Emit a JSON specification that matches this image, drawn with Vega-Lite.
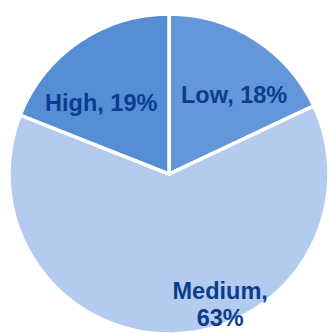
{
  "$schema": "https://vega.github.io/schema/vega-lite/v6.json",
  "autosize": "none",
  "padding": 0,
  "width": 338,
  "height": 348,
  "background": "white",
  "data": {
    "values": [
      {"level": "Low", "share": 18, "label": "Low, 18%"},
      {"level": "Medium", "share": 63, "label": "Medium,\n63%"},
      {"level": "High", "share": 19, "label": "High, 19%"}
    ]
  },
  "encoding": {
    "theta": {"field": "share", "type": "quantitative", "stack": true},
    "order": {"field": "o", "type": "quantitative"}
  },
  "transform": [
    {"calculate": "indexof(['Low','Medium','High'], datum.level)", "as": "o"}
  ],
  "layer": [
    {
      "mark": {"type": "arc", "outerRadius": 160, "stroke": "white", "strokeWidth": 3.5},
      "encoding": {
        "color": {
          "field": "level", "type": "nominal", "legend": null,
          "scale": {"domain": ["Low", "Medium", "High"], "range": ["#6497da", "#b3cbee", "#558ed5"]}
        }
      }
    },
    {
      "mark": {"type": "text", "radius": 101, "dx": 11, "dy": 7, "font": "Liberation Sans", "fontWeight": "bold", "fontSize": 23.5, "fill": "#0b3d8c", "baseline": "middle", "align": "center"},
      "encoding": {"text": {"condition": {"test": "datum.level === 'Low'", "field": "label"}, "value": ""}}
    },
    {
      "mark": {"type": "text", "radius": 101, "dx": -11, "dy": 14, "font": "Liberation Sans", "fontWeight": "bold", "fontSize": 23.5, "fill": "#0b3d8c", "baseline": "middle", "align": "center"},
      "encoding": {"text": {"condition": {"test": "datum.level === 'High'", "field": "label"}, "value": ""}}
    },
    {
      "mark": {"type": "text", "radius": 101, "dx": 48, "dy": 17, "lineBreak": "\n", "lineHeight": 27, "font": "Liberation Sans", "fontWeight": "bold", "fontSize": 23.5, "fill": "#0b3d8c", "baseline": "middle", "align": "center"},
      "encoding": {"text": {"condition": {"test": "datum.level === 'Medium'", "field": "label"}, "value": ""}}
    }
  ]
}
